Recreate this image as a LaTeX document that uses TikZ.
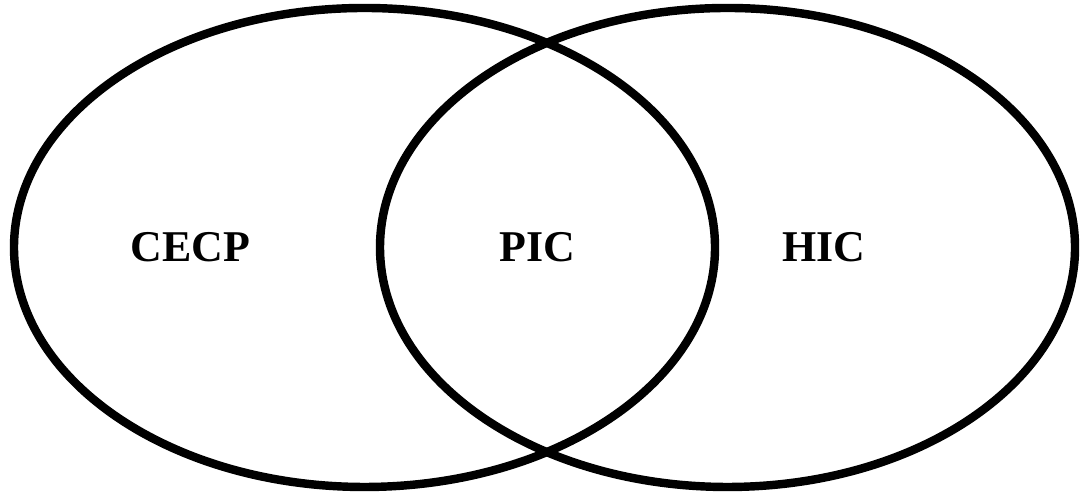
\documentclass[tikz,border=0pt]{standalone}
\usepackage{fontspec}
\setmainfont{Liberation Serif}
\usetikzlibrary{shapes.geometric}

\begin{document}
\begin{tikzpicture}[
    setshape/.style={draw, ellipse, line width=2.4pt, inner sep=0pt, minimum width=7.01cm, minimum height=4.79cm},
    setlabel/.style={anchor=base, font=\fontsize{12.5}{15}\selectfont\bfseries}
]
    \useasboundingbox (0,0) rectangle (10.81,4.95);
    % Sets
    \node[setshape] (cecpset) at (3.645, 2.475) {};
    \node[setshape, minimum width=6.95cm] (hicset) at (7.275, 2.475) {};

    % Labels
    \node[setlabel] (cecp) at (1.905, 2.33) {CECP};
    \node[setlabel] (pic) at (5.37, 2.33) {PIC};
    \node[setlabel] (hic) at (8.24, 2.33) {HIC};
\end{tikzpicture}
\end{document}
